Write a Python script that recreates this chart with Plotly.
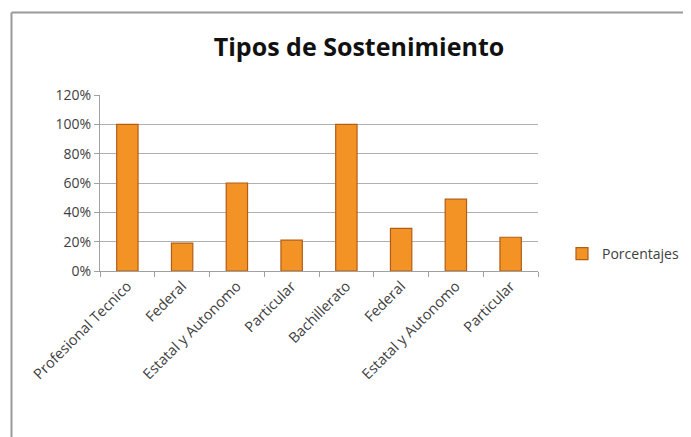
import plotly.graph_objects as go

categories = ["Profesional Tecnico", "Federal", "Estatal y Autonomo", "Particular",
              "Bachillerato", "Federal", "Estatal y Autonomo", "Particular"]
values = [1.00, 0.19, 0.60, 0.21, 1.00, 0.29, 0.49, 0.23]
series_name = "Porcentajes"
y_ticks = [0, 0.2, 0.4, 0.6, 0.8, 1.0, 1.2]

positions = list(range(len(categories)))

# page offset (default body margin)
O = 8
PW, PH = 691, 437
W, H = PW - O, PH - O
L, R, T, B = 100, 538, 95, 271  # plot area in page pixels

def px_x(p):
    return (p - L) / (R - L)

def px_y(p):
    return (B - p) / (B - T)

fig = go.Figure()
fig.add_trace(go.Bar(
    x=positions, y=values, name=series_name, width=0.39,
    marker=dict(color="#F39325", line=dict(color="#B35C15", width=1.2)),
    showlegend=True,
))

fig.update_layout(
    width=W, height=H,
    margin=dict(l=L - O, r=PW - R, t=T - O, b=PH - B, autoexpand=False),
    paper_bgcolor="white", plot_bgcolor="white",
    font=dict(family="Open Sans", size=13, color="#404040"),
    title=dict(text="<b>Tipos de Sostenimiento</b>", x=(359 - O) / W, xref="container", xanchor="center",
               y=1 - (47 - O) / H, yref="container", yanchor="middle",
               font=dict(family="Open Sans", size=25, color="#111111")),
    legend=dict(x=px_x(562), y=px_y(254), xanchor="left", yanchor="middle",
                font=dict(size=14, color="#404040"), bgcolor="rgba(0,0,0,0)"),
    xaxis=dict(
        range=[-0.5, len(categories) - 0.5],
        tickmode="array", tickvals=positions, ticktext=categories,
        tickangle=-45, ticks="", showgrid=False,
        showline=True, linecolor="#A0A0A0", linewidth=1,
        minor=dict(ticks="outside", tick0=-0.5, dtick=1, ticklen=5, tickcolor="#A0A0A0", showgrid=False),
        tickfont=dict(size=14.5, color="#404040"),
    ),
    yaxis=dict(
        range=[0, 1.2], tickmode="array", tickvals=y_ticks, tickformat=".0%",
        showgrid=True, gridcolor="#B0B0B0", gridwidth=1,
        showline=True, linecolor="#A0A0A0", linewidth=1,
        ticks="outside", ticklen=5, tickcolor="#A0A0A0",
        tickfont=dict(size=14, color="#404040"), zeroline=False,
    ),
    shapes=[
        dict(type="line", xref="paper", yref="paper", x0=px_x(11.5), x1=px_x(PW), y0=px_y(12.5), y1=px_y(12.5),
             line=dict(color="#9A9A9A", width=2)),
        dict(type="line", xref="paper", yref="paper", x0=px_x(11.5), x1=px_x(11.5), y0=px_y(12.5), y1=px_y(PH),
             line=dict(color="#9A9A9A", width=2)),
    ],
)

fig.write_html("out.html")
